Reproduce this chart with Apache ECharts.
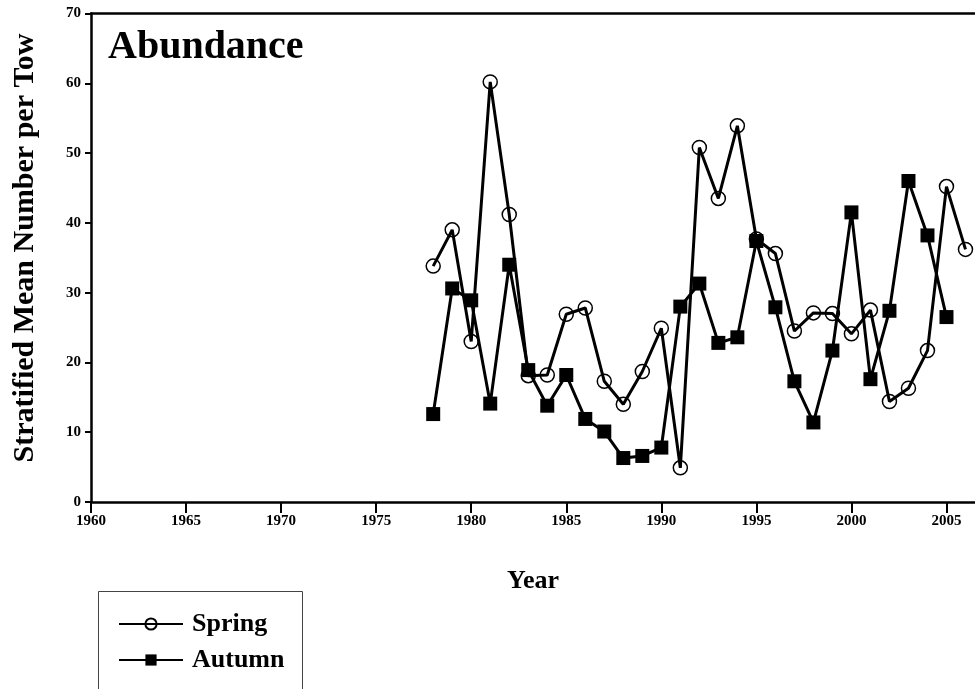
<!DOCTYPE html>
<html>
<head>
<meta charset="utf-8">
<script src="https://cdn.jsdelivr.net/npm/echarts@6/dist/echarts.min.js"></script>
<style>
  html, body { margin: 0; padding: 0; background: #fff; }
  #chart { width: 975px; height: 689px; }
</style>
</head>
<body>
<div id="chart"></div>
<script>
// Survey years and stratified mean catch per tow
const springYears = [1978, 1979, 1980, 1981, 1982, 1983, 1984, 1985, 1986, 1987, 1988, 1989, 1990, 1991,
  1992, 1993, 1994, 1995, 1996, 1997, 1998, 1999, 2000, 2001, 2002, 2003, 2004, 2005, 2006];
const springValues = [33.8, 39.0, 23.0, 60.2, 41.2, 18.1, 18.2, 26.9, 27.8, 17.3, 14.0, 18.7, 24.9, 4.9,
  50.8, 43.5, 53.9, 37.7, 35.6, 24.5, 27.1, 27.0, 24.1, 27.5, 14.4, 16.3, 21.7, 45.2, 36.2];

const autumnYears = [1978, 1979, 1980, 1981, 1982, 1983, 1984, 1985, 1986, 1987, 1988, 1989, 1990, 1991,
  1992, 1993, 1994, 1995, 1996, 1997, 1998, 1999, 2000, 2001, 2002, 2003, 2004, 2005];
const autumnValues = [12.6, 30.6, 28.9, 14.1, 34.0, 18.9, 13.8, 18.2, 11.9, 10.1, 6.3, 6.6, 7.8, 28.0,
  31.3, 22.8, 23.6, 37.4, 27.9, 17.3, 11.4, 21.7, 41.5, 17.6, 27.4, 46.0, 38.2, 26.5];

const seriesNames = ['Spring', 'Autumn'];
const panelTitle = 'Abundance';
const xTitle = 'Year';
const yTitle = 'Stratified Mean Number per Tow';

const FONT = '"Liberation Serif", "Times New Roman", serif';

const pair = (xs, ys) => xs.map((x, i) => [x, ys[i]]);

const chart = echarts.init(document.getElementById('chart'), null, { renderer: 'canvas' });

chart.setOption({
  backgroundColor: '#ffffff',
  animation: false,
  grid: { left: 91, right: 0, top: 13.5, bottom: 187, containLabel: false, outerBoundsMode: 'none' },
  xAxis: [
    {
      type: 'value',
      min: 1960,
      max: 2006.5,
      interval: 5,
      name: xTitle,
      nameLocation: 'middle',
      nameGap: 66,
      nameTextStyle: { fontFamily: FONT, fontWeight: 'bold', fontSize: 26, color: '#000' },
      axisLine: { show: true, lineStyle: { color: '#000', width: 2.5 } },
      axisTick: { show: true, inside: false, length: 11, lineStyle: { color: '#000', width: 2 } },
      axisLabel: {
        fontFamily: FONT, fontWeight: 'bold', fontSize: 15, color: '#000', margin: 12,
        showMaxLabel: false,
        formatter: v => (v % 5 === 0 ? String(v) : '')
      },
      splitLine: { show: false }
    },
    {
      // frame line along the top of the plot
      type: 'value',
      position: 'top',
      min: 1960,
      max: 2006.5,
      axisLine: { show: true, lineStyle: { color: '#000', width: 2.5 } },
      axisTick: { show: false },
      axisLabel: { show: false },
      splitLine: { show: false }
    }
  ],
  yAxis: {
    type: 'value',
    min: 0,
    max: 70,
    interval: 10,
    axisLine: { show: true, lineStyle: { color: '#000', width: 2.5 } },
    axisTick: { show: true, inside: false, length: 6, lineStyle: { color: '#000', width: 2 } },
    axisLabel: { fontFamily: FONT, fontWeight: 'bold', fontSize: 15, color: '#000', margin: 10 },
    splitLine: { show: false }
  },
  legend: {
    orient: 'vertical',
    left: 113,
    top: 606,
    height: 80,
    itemWidth: 64,
    itemHeight: 14,
    itemGap: 10,
    data: seriesNames,
    textStyle: {
      fontFamily: FONT, fontWeight: 'bold', fontSize: 26, lineHeight: 26,
      color: '#000', padding: [0, 0, 0, 4]
    }
  },
  graphic: [
    {
      type: 'text',
      left: 108,
      top: 28,
      style: { text: panelTitle, font: 'bold 40px ' + FONT, fill: '#000' }
    },
    {
      type: 'text',
      x: 25,
      y: 248,
      rotation: Math.PI / 2,
      style: {
        text: yTitle, font: 'bold 30px ' + FONT, fill: '#000',
        align: 'center', verticalAlign: 'middle'
      }
    },
    {
      // legend frame, open past the bottom edge
      type: 'rect',
      shape: { x: 98.5, y: 591.5, width: 204, height: 110 },
      style: { fill: 'none', stroke: '#444', lineWidth: 1 },
      z: 0
    }
  ],
  series: [
    {
      name: seriesNames[0],
      type: 'line',
      data: pair(springYears, springValues),
      symbol: 'circle',
      symbolSize: 14,
      lineStyle: { color: '#000', width: 3 },
      itemStyle: { color: 'rgba(255,255,255,0)', borderColor: '#000', borderWidth: 1.5 },
      z: 3
    },
    {
      name: seriesNames[1],
      type: 'line',
      data: pair(autumnYears, autumnValues),
      symbol: 'rect',
      symbolSize: 14,
      lineStyle: { color: '#000', width: 3 },
      itemStyle: { color: '#000', borderColor: '#000', borderWidth: 0 },
      z: 2
    }
  ]
});
</script>
</body>
</html>
